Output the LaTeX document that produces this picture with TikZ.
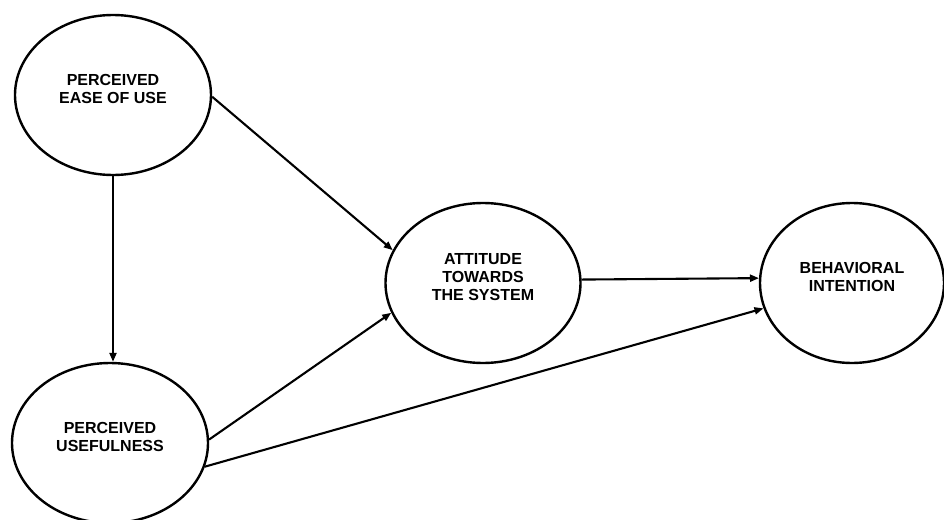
\documentclass[tikz,border=0pt]{standalone}
\usepackage{fontspec}
\setmainfont{Liberation Sans}
\usetikzlibrary{arrows.meta, shapes.geometric}
\tikzset{
  construct/.style={ellipse, draw=black, line width=2.4pt, fill=white,
                    minimum width=#1, minimum height=160pt, inner sep=0pt,
                    align=center, text depth=12pt,
                    font=\bfseries\fontsize{16}{18}\selectfont},
  arr/.style={-{Triangle[length=9pt, width=7pt]}, line width=2.1pt},
}
\begin{document}
\begin{tikzpicture}[x=1pt, y=-1pt]
    \useasboundingbox (0,0) rectangle (944,519);

    % Constructs
    \node[construct=196pt] (peou) at (113, 95)  {PERCEIVED\\EASE OF USE};
    \node[construct=196pt] (pu)   at (110, 443) {PERCEIVED\\USEFULNESS};
    \node[construct=195pt] (att)  at (483, 283) {ATTITUDE\\TOWARDS\\THE SYSTEM};
    \node[construct=184pt] (bi)   at (852, 283) {BEHAVIORAL\\INTENTION};

    % Paths
    \draw[arr] (peou.south) -- (peou.south |- pu.north);
    \draw[arr] (peou.-1)    -- (att.160);
    \draw[arr] (pu.2)       -- (att.198);
    \draw[arr] (pu.-14)     -- (bi.196);
    \draw[arr] (att.2.5)    -- (bi.177.5);

\end{tikzpicture}
\end{document}
